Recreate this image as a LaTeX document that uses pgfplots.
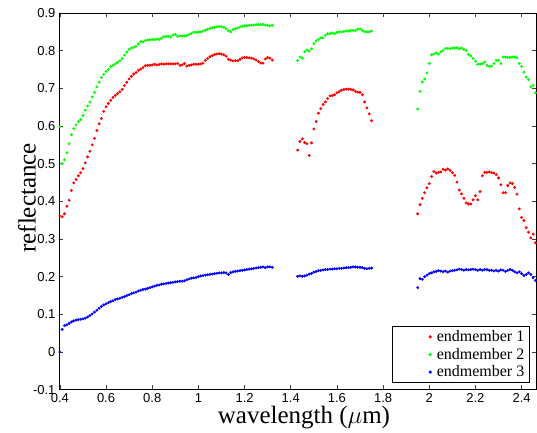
\documentclass[border=0pt]{standalone}
\usepackage{fontspec}
\setmainfont{Liberation Serif}
\newfontfamily\ticksf{Liberation Sans}
\usepackage{pgfplots}
\pgfplotsset{compat=1.18}

% endmember 1
\pgfplotstableread{
x y
0.40 0.361
0.41 0.359
0.42 0.367
0.43 0.387
0.44 0.403
0.45 0.429
0.46 0.449
0.47 0.458
0.48 0.468
0.49 0.476
0.50 0.487
0.51 0.502
0.52 0.518
0.53 0.533
0.54 0.550
0.55 0.567
0.56 0.588
0.57 0.606
0.58 0.620
0.59 0.639
0.60 0.651
0.61 0.660
0.62 0.668
0.63 0.676
0.64 0.681
0.65 0.686
0.66 0.691
0.67 0.697
0.68 0.707
0.69 0.716
0.70 0.725
0.71 0.732
0.72 0.738
0.73 0.742
0.74 0.748
0.75 0.751
0.76 0.755
0.77 0.760
0.78 0.761
0.79 0.761
0.80 0.762
0.81 0.764
0.82 0.762
0.83 0.763
0.84 0.765
0.85 0.764
0.86 0.765
0.87 0.765
0.88 0.765
0.89 0.765
0.90 0.765
0.91 0.766
0.92 0.761
0.93 0.762
0.94 0.766
0.95 0.759
0.96 0.761
0.97 0.762
0.98 0.764
0.99 0.764
1.00 0.764
1.01 0.765
1.02 0.767
1.03 0.774
1.04 0.779
1.05 0.784
1.06 0.787
1.07 0.790
1.08 0.791
1.09 0.792
1.10 0.791
1.11 0.789
1.12 0.785
1.13 0.777
1.14 0.775
1.15 0.773
1.16 0.774
1.17 0.773
1.18 0.777
1.19 0.781
1.20 0.782
1.21 0.782
1.22 0.781
1.23 0.780
1.24 0.778
1.25 0.775
1.26 0.771
1.27 0.767
1.28 0.767
1.29 0.778
1.30 0.782
1.31 0.780
1.32 0.775
1.43 0.536
1.44 0.559
1.45 0.566
1.46 0.556
1.47 0.553
1.48 0.522
1.49 0.555
1.50 0.592
1.51 0.612
1.52 0.634
1.53 0.646
1.54 0.657
1.55 0.664
1.56 0.673
1.57 0.680
1.58 0.681
1.59 0.683
1.60 0.688
1.61 0.691
1.62 0.695
1.63 0.697
1.64 0.698
1.65 0.698
1.66 0.697
1.67 0.696
1.68 0.692
1.69 0.690
1.70 0.689
1.71 0.683
1.72 0.664
1.73 0.648
1.74 0.632
1.75 0.614
1.95 0.367
1.96 0.391
1.97 0.408
1.98 0.423
1.99 0.436
2.00 0.447
2.01 0.466
2.02 0.479
2.03 0.475
2.04 0.477
2.05 0.478
2.06 0.485
2.07 0.483
2.08 0.486
2.09 0.482
2.10 0.476
2.11 0.469
2.12 0.451
2.13 0.430
2.14 0.420
2.15 0.408
2.16 0.396
2.17 0.393
2.18 0.393
2.19 0.404
2.20 0.415
2.21 0.404
2.22 0.426
2.23 0.468
2.24 0.477
2.25 0.477
2.26 0.478
2.27 0.476
2.28 0.475
2.29 0.471
2.30 0.462
2.31 0.444
2.32 0.423
2.33 0.423
2.34 0.442
2.35 0.449
2.36 0.447
2.37 0.437
2.38 0.419
2.39 0.380
2.40 0.357
2.41 0.349
2.42 0.330
2.43 0.318
2.44 0.303
2.45 0.313
2.46 0.290
}\emone

% endmember 2
\pgfplotstableread{
x y
0.40 0.598
0.41 0.500
0.42 0.510
0.43 0.529
0.44 0.553
0.45 0.577
0.46 0.593
0.47 0.603
0.48 0.612
0.49 0.617
0.50 0.628
0.51 0.642
0.52 0.653
0.53 0.664
0.54 0.677
0.55 0.689
0.56 0.704
0.57 0.716
0.58 0.729
0.59 0.737
0.60 0.745
0.61 0.750
0.62 0.758
0.63 0.761
0.64 0.765
0.65 0.769
0.66 0.773
0.67 0.779
0.68 0.788
0.69 0.796
0.70 0.803
0.71 0.807
0.72 0.809
0.73 0.812
0.74 0.818
0.75 0.824
0.76 0.823
0.77 0.827
0.78 0.828
0.79 0.829
0.80 0.830
0.81 0.829
0.82 0.831
0.83 0.830
0.84 0.833
0.85 0.837
0.86 0.838
0.87 0.838
0.88 0.836
0.89 0.841
0.90 0.843
0.91 0.838
0.92 0.839
0.93 0.839
0.94 0.839
0.95 0.840
0.96 0.843
0.97 0.846
0.98 0.849
0.99 0.849
1.00 0.849
1.01 0.850
1.02 0.852
1.03 0.854
1.04 0.857
1.05 0.859
1.06 0.861
1.07 0.862
1.08 0.863
1.09 0.864
1.10 0.864
1.11 0.862
1.12 0.858
1.13 0.853
1.14 0.850
1.15 0.856
1.16 0.858
1.17 0.860
1.18 0.863
1.19 0.865
1.20 0.866
1.21 0.866
1.22 0.867
1.23 0.868
1.24 0.868
1.25 0.869
1.26 0.869
1.27 0.869
1.28 0.870
1.29 0.868
1.30 0.867
1.31 0.866
1.32 0.867
1.43 0.774
1.44 0.783
1.45 0.780
1.46 0.797
1.47 0.802
1.48 0.799
1.49 0.805
1.50 0.819
1.51 0.826
1.52 0.830
1.53 0.834
1.54 0.834
1.55 0.841
1.56 0.845
1.57 0.845
1.58 0.847
1.59 0.845
1.60 0.848
1.61 0.850
1.62 0.850
1.63 0.851
1.64 0.852
1.65 0.852
1.66 0.854
1.67 0.854
1.68 0.853
1.69 0.857
1.70 0.858
1.71 0.854
1.72 0.850
1.73 0.850
1.74 0.850
1.75 0.852
1.95 0.645
1.96 0.692
1.97 0.717
1.98 0.725
1.99 0.741
2.00 0.766
2.01 0.789
2.02 0.791
2.03 0.794
2.04 0.791
2.05 0.797
2.06 0.800
2.07 0.806
2.08 0.806
2.09 0.805
2.10 0.807
2.11 0.807
2.12 0.808
2.13 0.805
2.14 0.807
2.15 0.803
2.16 0.800
2.17 0.790
2.18 0.786
2.19 0.779
2.20 0.772
2.21 0.764
2.22 0.764
2.23 0.766
2.24 0.770
2.25 0.761
2.26 0.758
2.27 0.759
2.28 0.766
2.29 0.774
2.30 0.774
2.31 0.766
2.32 0.783
2.33 0.783
2.34 0.782
2.35 0.782
2.36 0.783
2.37 0.783
2.38 0.781
2.39 0.766
2.40 0.758
2.41 0.743
2.42 0.730
2.43 0.723
2.44 0.704
2.45 0.708
2.46 0.688
}\emtwo

% endmember 3
\pgfplotstableread{
x y
0.40 0.000
0.41 0.060
0.42 0.070
0.43 0.072
0.44 0.076
0.45 0.080
0.46 0.083
0.47 0.085
0.48 0.086
0.49 0.087
0.50 0.088
0.51 0.090
0.52 0.093
0.53 0.097
0.54 0.101
0.55 0.106
0.56 0.111
0.57 0.116
0.58 0.121
0.59 0.125
0.60 0.128
0.61 0.131
0.62 0.134
0.63 0.136
0.64 0.139
0.65 0.141
0.66 0.143
0.67 0.145
0.68 0.147
0.69 0.150
0.70 0.152
0.71 0.155
0.72 0.157
0.73 0.159
0.74 0.162
0.75 0.164
0.76 0.166
0.77 0.167
0.78 0.169
0.79 0.171
0.80 0.173
0.81 0.175
0.82 0.177
0.83 0.178
0.84 0.180
0.85 0.181
0.86 0.182
0.87 0.183
0.88 0.184
0.89 0.185
0.90 0.186
0.91 0.187
0.92 0.188
0.93 0.188
0.94 0.189
0.95 0.192
0.96 0.194
0.97 0.196
0.98 0.197
0.99 0.198
1.00 0.200
1.01 0.202
1.02 0.203
1.03 0.204
1.04 0.205
1.05 0.206
1.06 0.207
1.07 0.208
1.08 0.209
1.09 0.210
1.10 0.210
1.11 0.211
1.12 0.210
1.13 0.206
1.14 0.211
1.15 0.213
1.16 0.214
1.17 0.215
1.18 0.216
1.19 0.217
1.20 0.218
1.21 0.219
1.22 0.220
1.23 0.221
1.24 0.222
1.25 0.223
1.26 0.224
1.27 0.225
1.28 0.226
1.29 0.224
1.30 0.226
1.31 0.226
1.32 0.225
1.43 0.201
1.44 0.202
1.45 0.201
1.46 0.202
1.47 0.204
1.48 0.207
1.49 0.209
1.50 0.212
1.51 0.214
1.52 0.216
1.53 0.217
1.54 0.218
1.55 0.219
1.56 0.219
1.57 0.220
1.58 0.220
1.59 0.221
1.60 0.221
1.61 0.222
1.62 0.222
1.63 0.223
1.64 0.224
1.65 0.224
1.66 0.225
1.67 0.226
1.68 0.226
1.69 0.225
1.70 0.225
1.71 0.224
1.72 0.222
1.73 0.221
1.74 0.222
1.75 0.223
1.95 0.171
1.96 0.195
1.97 0.193
1.98 0.200
1.99 0.204
2.00 0.208
2.01 0.210
2.02 0.213
2.03 0.214
2.04 0.216
2.05 0.215
2.06 0.213
2.07 0.215
2.08 0.212
2.09 0.215
2.10 0.216
2.11 0.217
2.12 0.218
2.13 0.220
2.14 0.219
2.15 0.217
2.16 0.219
2.17 0.218
2.18 0.219
2.19 0.220
2.20 0.219
2.21 0.217
2.22 0.219
2.23 0.217
2.24 0.219
2.25 0.219
2.26 0.217
2.27 0.217
2.28 0.215
2.29 0.217
2.30 0.215
2.31 0.218
2.32 0.217
2.33 0.214
2.34 0.217
2.35 0.219
2.36 0.217
2.37 0.213
2.38 0.210
2.39 0.213
2.40 0.208
2.41 0.203
2.42 0.206
2.43 0.210
2.44 0.206
2.45 0.197
2.46 0.190
}\emthree

\begin{document}
\begin{tikzpicture}
\begin{axis}[
    scale only axis,
    width=478pt, height=377pt,
    xmin=0.396, xmax=2.465,
    ymin=-0.1, ymax=0.9,
    xtick={0.4,0.6,0.8,1,1.2,1.4,1.6,1.8,2,2.2,2.4},
    ytick={-0.1,0,0.1,0.2,0.3,0.4,0.5,0.6,0.7,0.8,0.9},
    /pgf/number format/assume math mode=true,
    y tick label style={/pgf/number format/fixed,/pgf/number format/precision=1},
    tick label style={font=\fontsize{13}{15}\ticksf},
    tick align=inside,
    major tick length=4.5pt,
    tick style={line width=0.6pt, black!75},
    axis line style={line width=0.8pt},
    xlabel={wavelength ($\mu$m)},
    ylabel={reflectance},
    every axis x label/.style={at={(axis description cs:0.513,-0.074)}, anchor=center,
        font=\fontsize{25}{28}\rmfamily},
    every axis y label/.style={at={(axis description cs:-0.067,0.509)}, rotate=90, anchor=center,
        font=\fontsize{25}{28}\rmfamily},
    legend style={at={(axis description cs:1,0)}, anchor=south east,
        xshift=-7pt, yshift=7pt, draw=black, line width=0.7pt,
        font=\fontsize{16}{18}\rmfamily, row sep=1pt},
    legend cell align=left,
    legend image code/.code={
        \path (-0.35cm,0cm) (1cm,0cm);
        \draw[#1,only marks] plot coordinates {(0.85cm,0cm)};
    },
]
\addplot[only marks, mark=*, mark size=1.25pt, color=red, mark options={draw=none}] table {\emone};
\addplot[only marks, mark=*, mark size=1.25pt, color=green, mark options={draw=none}] table {\emtwo};
\addplot[only marks, mark=*, mark size=1.25pt, color=blue, mark options={draw=none}] table {\emthree};
\legend{endmember 1, endmember 2, endmember 3}
\coordinate (sw) at (rel axis cs:0,0);
\coordinate (ne) at (rel axis cs:1,1);
\end{axis}
\pgfresetboundingbox
\path ([xshift=-59pt,yshift=-43pt]sw) rectangle ([xshift=0.4pt,yshift=13pt]ne);
\end{tikzpicture}
\end{document}
